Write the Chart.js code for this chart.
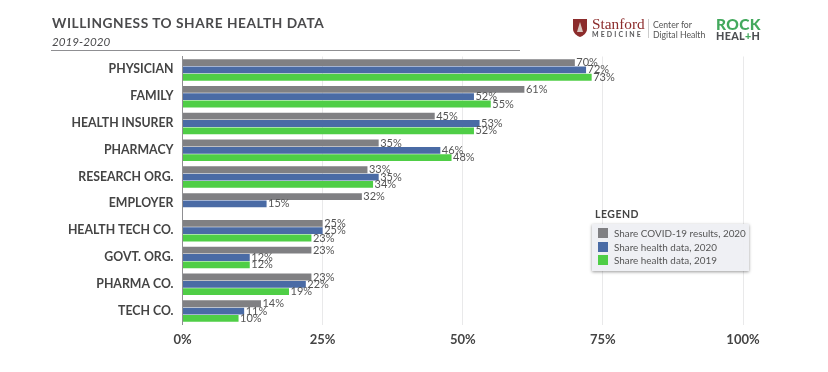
<!DOCTYPE html>
<html>
<head>
<meta charset="utf-8">
<title>Willingness to share health data</title>
<script src="https://cdn.jsdelivr.net/npm/chart.js@4/dist/chart.umd.min.js"></script>
<style>
    html, body { margin: 0; padding: 0; background: #fff; }
    body { width: 828px; height: 372px; position: relative; overflow: hidden; font-family: Lato, sans-serif; color: #444; }
    #wrap { position: absolute; left: 0; top: 0; width: 828px; height: 372px; }
    .abs { position: absolute; white-space: nowrap; }
    #title { left: 52px; top: 14px; font-size: 13.7px; font-weight: 700; letter-spacing: 0.55px; line-height: 18px; color: #4a4a4c; }
    #subtitle { left: 52px; top: 33px; font-size: 11.7px; font-style: italic; line-height: 16px; color: #4a4a4c; }
    #rule { left: 51px; top: 50px; width: 469px; height: 1px; background: #8f8f92; }
    #stanford { left: 592px; top: 15px; font-family: "Liberation Serif", serif; font-size: 15.3px; line-height: 18px; color: #8c2c2c; }
    #medicine { left: 592px; top: 29px; font-size: 7px; font-weight: 700; letter-spacing: 2.1px; line-height: 10px; color: #5a5a5c; }
    #divider { left: 648px; top: 19px; width: 1px; height: 19px; background: #ccc; }
    #center { left: 653px; top: 20px; font-size: 8.7px; line-height: 9.5px; color: #555; white-space: pre; }
    #rock { left: 716px; top: 14px; font-size: 15.5px; font-weight: 900; letter-spacing: 0.4px; line-height: 20px; color: #43a95d; }
    #health { left: 716px; top: 29px; font-size: 10.8px; font-weight: 900; letter-spacing: 0.3px; line-height: 14px; color: #4d4f53; }
    #health span { color: #43a95d; }
    #shield { left: 572px; top: 18px; }
    #legendTitle { left: 595px; top: 207px; font-size: 10.5px; font-weight: 700; letter-spacing: 0.5px; line-height: 14px; color: #444; }
    #legend { left: 592px; top: 224px; width: 157px; height: 47px; background: rgba(238,239,243,0.93); box-shadow: 0 1px 3px rgba(0,0,0,0.4); }
    .item { position: absolute; left: 6px; font-size: 9.9px; line-height: 13px; color: #555; white-space: nowrap; }
    .item i { display: inline-block; width: 10px; height: 10px; margin-right: 6px; vertical-align: -1px; }
</style>
</head>
<body>
<div id="wrap"><canvas id="shareChart" width="828" height="372"></canvas></div>

<div class="abs" id="title">WILLINGNESS TO SHARE HEALTH DATA</div>
<div class="abs" id="subtitle">2019-2020</div>
<div class="abs" id="rule"></div>

<svg class="abs" id="shield" width="16" height="20" viewBox="0 0 16 20">
    <path d="M1 1 H15 V11 C15 15 11 18 8 19 C5 18 1 15 1 11 Z" fill="#8c2c2c"/>
    <path d="M8 4 L11 14 H5 Z" fill="#d9c7c0"/>
</svg>
<div class="abs" id="stanford">Stanford</div>
<div class="abs" id="medicine">MEDICINE</div>
<div class="abs" id="divider"></div>
<div class="abs" id="center">Center for
Digital Health</div>
<div class="abs" id="rock">ROCK</div>
<div class="abs" id="health">HEAL<span>+</span>H</div>

<div class="abs" id="legendTitle">LEGEND</div>
<div class="abs" id="legend"></div>

<script>
const categories = ["PHYSICIAN", "FAMILY", "HEALTH INSURER", "PHARMACY", "RESEARCH ORG.",
    "EMPLOYER", "HEALTH TECH CO.", "GOVT. ORG.", "PHARMA CO.", "TECH CO."];
const covid2020 = [70, 61, 45, 35, 33, 32, 25, 23, 23, 14];
const health2020 = [72, 52, 53, 46, 35, 15, 25, 12, 22, 11];
const health2019 = [73, 55, 52, 48, 34, null, 23, 12, 19, 10];
const xTicks = [0, 25, 50, 75, 100];

const barLabels = {
    id: "barLabels",
    afterDatasetsDraw(chart) {
        const ctx = chart.ctx;
        ctx.save();
        ctx.font = "11px Lato, sans-serif";
        ctx.fillStyle = "#555";
        ctx.textBaseline = "middle";
        chart.data.datasets.forEach(function (ds, i) {
            chart.getDatasetMeta(i).data.forEach(function (bar, j) {
                if (ds.data[j] === null) return;
                ctx.fillText(ds.data[j] + "%", bar.x + 1.5, bar.y);
            });
        });
        ctx.restore();
    }
};

const theChart = new Chart(document.getElementById("shareChart"), {
    type: "bar",
    data: {
        labels: categories,
        datasets: [
            { label: "Share COVID-19 results, 2020", data: covid2020, backgroundColor: "#808083" },
            { label: "Share health data, 2020", data: health2020, backgroundColor: "#4a6ba5" },
            { label: "Share health data, 2019", data: health2019, backgroundColor: "#4fce46" }
        ]
    },
    options: {
        indexAxis: "y",
        responsive: false,
        animation: false,
        categoryPercentage: 0.82,
        barPercentage: 0.93,
        layout: { padding: { left: 0, right: 85, top: 56.5, bottom: 0 } },
        plugins: {
            legend: { display: false },
            title: { display: false },
            tooltip: { enabled: false }
        },
        scales: {
            x: {
                min: 0,
                max: 100,
                afterBuildTicks: function (axis) {
                    axis.ticks = xTicks.map(function (v) { return { value: v }; });
                },
                afterFit: function (axis) { axis.height = 47.5; },
                grid: { color: "#e9e9ea", lineWidth: 1, drawTicks: false },
                border: { display: false },
                ticks: {
                    padding: 8,
                    maxRotation: 0,
                    color: "#444",
                    font: { family: "Lato, sans-serif", size: 13, weight: "700" },
                    callback: function (v) { return v + "%"; }
                }
            },
            y: {
                afterFit: function (axis) { axis.width = 182.5; },
                grid: { display: false, drawTicks: false },
                border: { display: true, color: "#8f8f92", width: 1 },
                ticks: {
                    padding: 9,
                    labelOffset: -0.5,
                    autoSkip: false,
                    color: "#444",
                    font: { family: "Lato, sans-serif", size: 12.3, weight: "700" }
                }
            }
        }
    },
    plugins: [barLabels]
});

// legend list comes from the datasets
const legendBox = document.getElementById("legend");
theChart.data.datasets.forEach(function (ds, i) {
    const row = document.createElement("div");
    row.className = "item";
    row.style.top = (3 + i * 13.5) + "px";
    const swatch = document.createElement("i");
    swatch.style.background = ds.backgroundColor;
    row.appendChild(swatch);
    row.appendChild(document.createTextNode(ds.label));
    legendBox.appendChild(row);
});
</script>
</body>
</html>
